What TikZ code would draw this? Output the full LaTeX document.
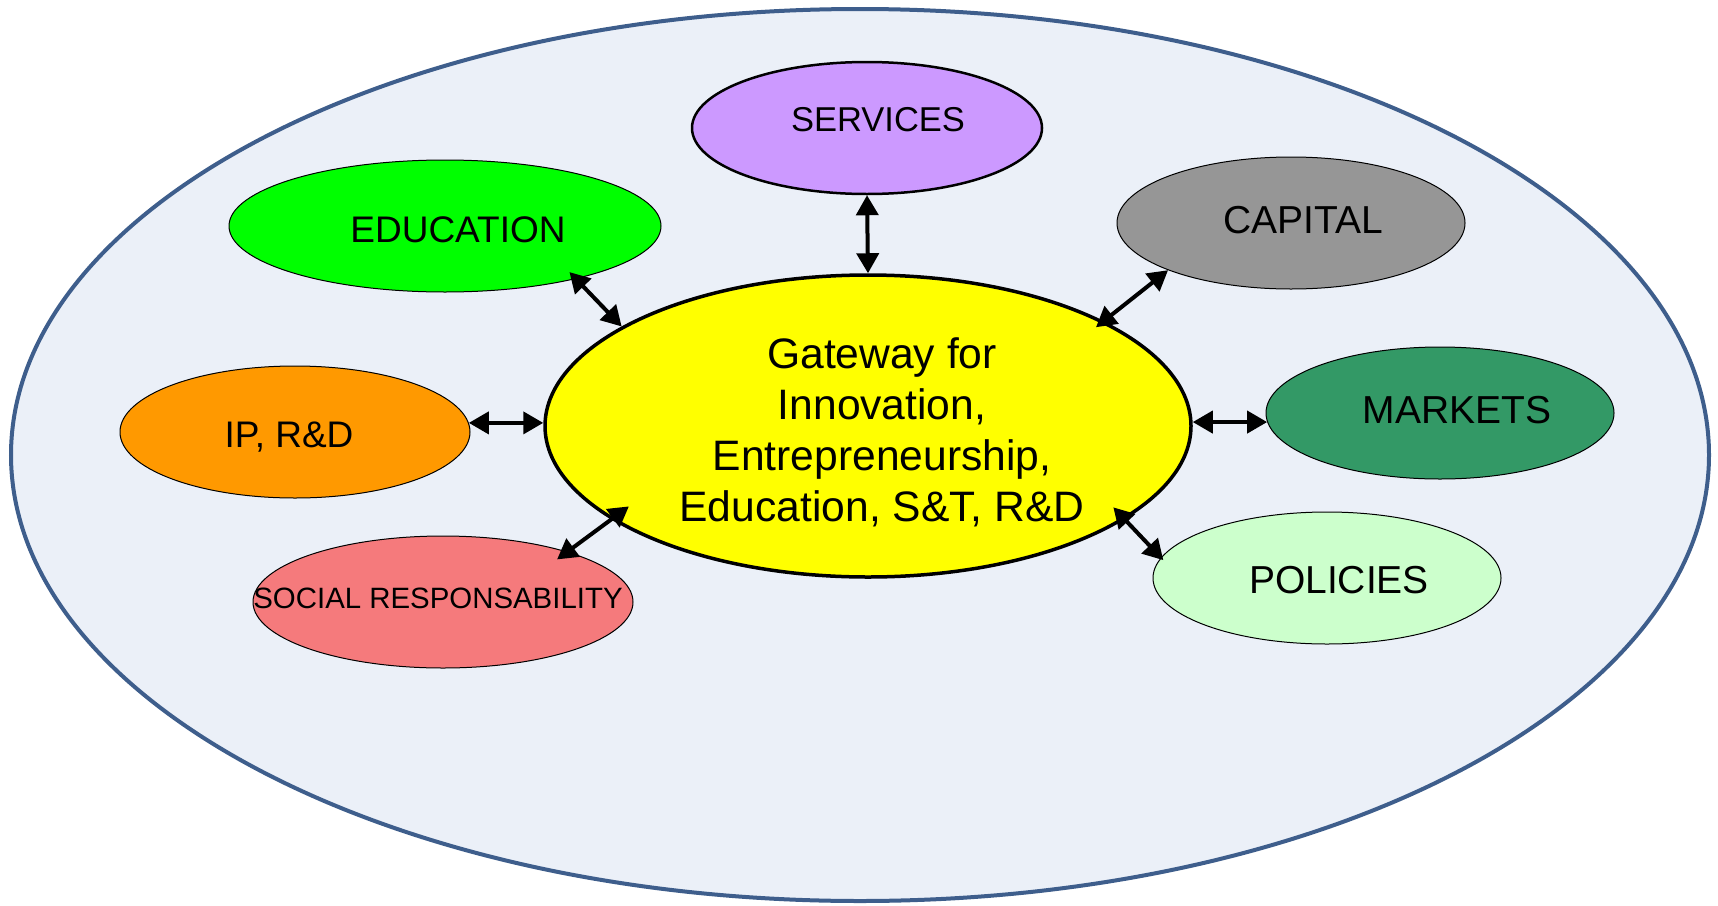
\documentclass[tikz,border=0pt]{standalone}
\usepackage{fontspec}
\setmainfont{Liberation Sans}
\usetikzlibrary{shapes.geometric,arrows.meta}
\definecolor{outerfill}{HTML}{EBF0F8}
\definecolor{outerline}{HTML}{3E5E8C}
\definecolor{svcfill}{HTML}{CC99FF}
\definecolor{edufill}{HTML}{00FF00}
\definecolor{capfill}{HTML}{969696}
\definecolor{ipfill}{HTML}{FF9900}
\definecolor{mkfill}{HTML}{339966}
\definecolor{socfill}{HTML}{F57A7C}
\definecolor{polfill}{HTML}{CCFFCC}
\definecolor{ctrfill}{HTML}{FFFF00}
\begin{document}
\begin{tikzpicture}[x=1pt,y=-1pt,
  bubble/.style={ellipse,draw=black,line width=1pt,inner sep=0pt},
  lbl/.style={inner sep=0pt,font=\fontsize{39}{46}\selectfont},
  link/.style={line width=4pt,{Triangle[length=20pt,width=22pt]}-{Triangle[length=20pt,width=22pt]}}]
\useasboundingbox (0,0) rectangle (1718,905);
\node[ellipse,draw=outerline,fill=outerfill,line width=4pt,minimum width=1698pt,minimum height=892pt,inner sep=0pt] (outer) at (860,455) {};
\node[bubble,fill=ctrfill,line width=3.5pt,minimum width=646pt,minimum height=302pt] (c) at (868,426) {};
\node[bubble,fill=svcfill,line width=2.5pt,minimum width=350pt,minimum height=132pt] (srv) at (867,128) {};
\node[bubble,fill=edufill,minimum width=432pt,minimum height=132pt] (edu) at (445,226) {};
\node[bubble,fill=capfill,minimum width=348pt,minimum height=132pt] (cap) at (1291,223) {};
\node[bubble,fill=ipfill,minimum width=350pt,minimum height=132pt] (ip) at (295,432) {};
\node[bubble,fill=mkfill,minimum width=348pt,minimum height=132pt] (mk) at (1440,413) {};
\node[bubble,fill=socfill,minimum width=380pt,minimum height=132pt] (soc) at (443,602) {};
\node[bubble,fill=polfill,minimum width=348pt,minimum height=132pt] (pol) at (1327,578) {};

\node[lbl,font=\fontsize{34.5}{40}\selectfont] (tsrv) at (878,120) {SERVICES};
\node[lbl,font=\fontsize{37}{44}\selectfont] (tedu) at (458,230) {EDUCATION};
\node[lbl] (tcap) at (1303,220) {CAPITAL};
\node[lbl,font=\fontsize{37}{44}\selectfont] (tip) at (289,437) {IP, R\&D};
\node[lbl] (tmk) at (1457,410) {MARKETS};
\node[lbl] (tpol) at (1339,580) {POLICIES};
\node[lbl,font=\fontsize{29.4}{34}\selectfont] (tsoc) at (438,598) {SOCIAL RESPONSABILITY};
\node[lbl,font=\fontsize{42.6}{51}\selectfont,align=center] (tc) at (882,432)
  {Gateway for\\Innovation,\\Entrepreneurship,\\Education, S\&T, R\&D};

\draw[link] (srv.-90) -- (c.90);
\draw[link,shorten <=-9.5pt] (edu.-22) -- (c.158);
\draw[link,shorten >=-10pt] (cap.201) -- (c.24);
\draw[link] (ip.3) -- (ip.3 -| c.west);
\draw[link] (c.east |- mk.183) -- (mk.183);
\draw[link,shorten <=-13pt,shorten >=-22pt] (soc.22) -- (c.200);
\draw[link,shorten <=-16.7pt,shorten >=-3.5pt] (c.-20) -- (pol.173);
\end{tikzpicture}
\end{document}
